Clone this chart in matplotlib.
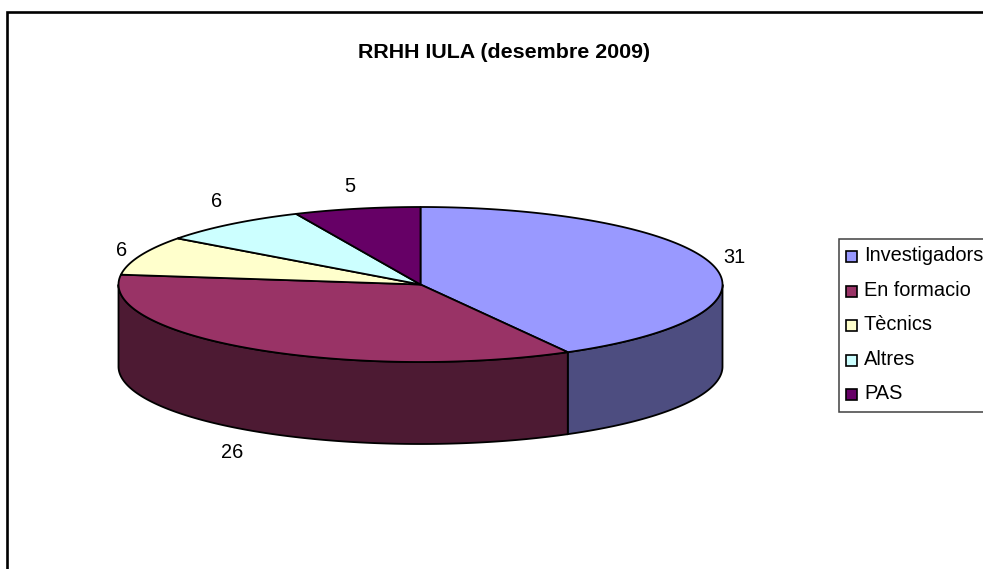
import numpy as np
import matplotlib
matplotlib.use("Agg")
import matplotlib.pyplot as plt
from matplotlib.patches import Polygon, Rectangle

plt.rcParams['font.family'] = ['Liberation Sans', 'DejaVu Sans']

title = "RRHH IULA (desembre 2009)"
categories = ["Investigadors", "En formacio", "Tècnics", "Altres", "PAS"]
values = [31, 26, 6, 6, 5]
colors = ["#9999FF", "#993366", "#FFFFCC", "#CCFFFF", "#660066"]
side_colors = ["#4D4D80", "#4D1A33", "#80806A", "#6A8080", "#330033"]
label_pos = [(734, 257), (232, 452), (122, 250), (217, 201), (350, 186)]

W, H = 983, 569
fig = plt.figure(figsize=(W / 100, H / 100), dpi=100)
ax = fig.add_axes([0, 0, 1, 1])
ax.set_xlim(0, W)
ax.set_ylim(H, 0)
ax.axis("off")

# chart frame (only left and top are inside the crop)
ax.plot([7, 7, W + 5], [H + 5, 12, 12], color="black", lw=1.9, solid_joinstyle="miter")

cx, cy, rx, ry, depth = 420.5, 284.5, 302, 77.5, 82
lw = 1.3

def rim(t0, t1, dy=0.0):
    t = np.radians(np.linspace(t0, t1, max(int(abs(t1 - t0) * 3), 2)))
    return np.column_stack([cx + rx * np.sin(t), cy - ry * np.cos(t) + dy])

edges = np.concatenate([[0], np.cumsum(values)]) / np.sum(values) * 360

# walls (front half of the rim only)
for i in range(len(values)):
    a, b = max(edges[i], 90), min(edges[i + 1], 270)
    if b > a:
        pts = np.vstack([rim(a, b), rim(b, a, depth)])
        ax.add_patch(Polygon(pts, closed=True, fc=side_colors[i], ec="black", lw=lw, zorder=2))

# top faces
for i in range(len(values)):
    pts = np.vstack([[cx, cy], rim(edges[i], edges[i + 1])])
    ax.add_patch(Polygon(pts, closed=True, fc=colors[i], ec="black", lw=lw,
                         joinstyle="round", zorder=3))

for v, (x, y) in zip(values, label_pos):
    ax.text(x, y, str(v), ha="center", va="center", fontsize=14.4, color="black")

ax.text(504, 52, title, ha="center", va="center", fontsize=15.4, fontweight="bold", color="black")

# legend
ax.add_patch(Rectangle((838.5, 238.5), 160, 173, fc="white", ec="#404040", lw=1.1, zorder=4))
for i, name in enumerate(categories):
    y = 256.5 + i * 34.6
    ax.add_patch(Rectangle((845.5, y - 5.5), 11, 11, fc=colors[i], ec="black", lw=1.2, zorder=5))
    ax.text(864, y - 1, name, ha="left", va="center", fontsize=14.4, color="black", zorder=5)

fig.savefig("out.png", dpi=100)
